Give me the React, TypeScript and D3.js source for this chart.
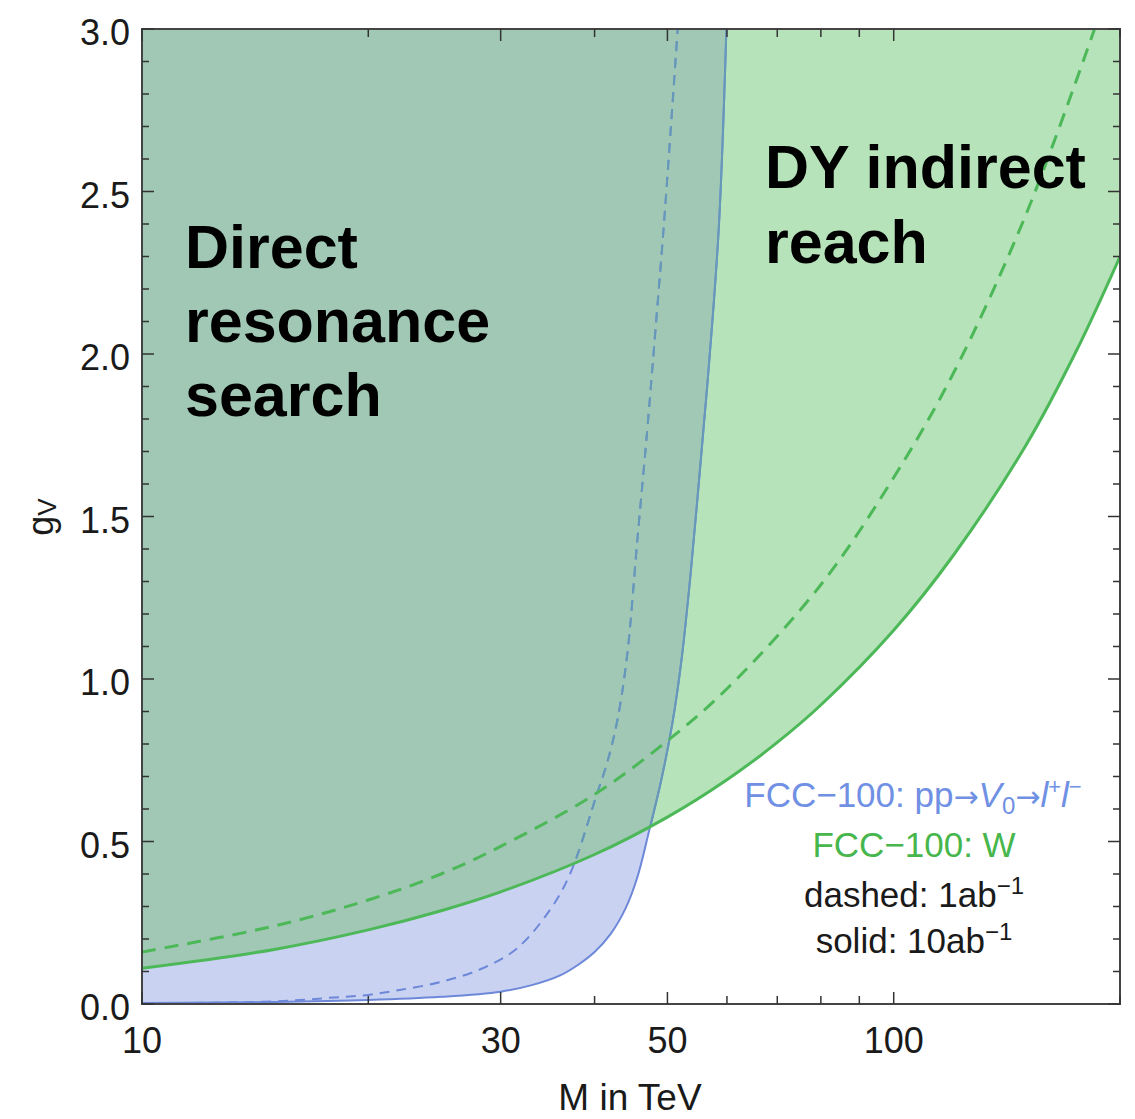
import React from "react";
import * as d3 from "d3";

// ---- data (M in TeV, g_V) ----
const blueSolidM = [10, 15, 20, 25, 30, 33, 36, 38, 40, 42, 44, 45.6, 47.3, 49.0, 50.8, 52.2, 53.5, 54.8, 56.5, 58.5, 59.9];
const blueSolidG = [0.003, 0.006, 0.012, 0.022, 0.038, 0.058, 0.088, 0.12, 0.16, 0.215, 0.295, 0.39, 0.535, 0.683, 0.868, 1.058, 1.289, 1.551, 1.905, 2.382, 3.0];

const blueDashedM = [10, 15, 18, 20, 22, 25, 28.4, 31.5, 34.9, 37.1, 40.3, 41.6, 42.9, 44.2, 45.6, 47.0, 48.2, 49.4, 50.5, 51.6];
const blueDashedG = [0.002, 0.008, 0.02, 0.028, 0.043, 0.068, 0.11, 0.17, 0.29, 0.4, 0.647, 0.745, 0.874, 1.074, 1.428, 1.766, 2.074, 2.382, 2.689, 3.0];

const greenSolidM = [10, 15, 20, 25, 30, 40, 50, 60, 70, 80, 100, 120, 150, 175, 200];
const greenSolidG = [0.11, 0.168, 0.228, 0.287, 0.345, 0.46, 0.575, 0.69, 0.805, 0.92, 1.15, 1.38, 1.72, 2.01, 2.3];

const greenDashedM = [10, 15, 20, 25, 30, 40, 50, 60, 80, 100, 120, 150, 185];
const greenDashedG = [0.16, 0.24, 0.32, 0.4, 0.485, 0.645, 0.81, 0.97, 1.29, 1.62, 1.94, 2.43, 3.0];

const xTickLabels = [10, 30, 50, 100];
const xMinorTicks = [20, 40, 60, 70, 80, 90, 200];
const yTickLabels = [0, 0.5, 1.0, 1.5, 2.0, 2.5, 3.0];

const FONT = "'Liberation Sans', Arial, Helvetica, sans-serif";

export default function App() {
  const W = 1135, H = 1119;
  const left = 142, right = 1120, top = 29, bottom = 1004;
  const x = d3.scaleLog().domain([10, 200]).range([left, right]);
  const y = d3.scaleLinear().domain([0, 3]).range([bottom, top]);

  const toPts = (ms: number[], gs: number[]) => ms.map((m, i) => [m, gs[i]] as [number, number]);
  const lineCR = d3.line<[number, number]>().x(d => x(d[0])).y(d => y(d[1])).curve(d3.curveCatmullRom.alpha(0.5));

  const blueSolid = lineCR(toPts(blueSolidM, blueSolidG)) as string;
  const blueDashed = lineCR(toPts(blueDashedM, blueDashedG)) as string;
  const greenSolid = lineCR(toPts(greenSolidM, greenSolidG)) as string;
  const greenDashed = lineCR(toPts(greenDashedM, greenDashedG)) as string;

  const blueArea = blueSolid + `L${x(10) - 5},${y(3) - 5}Z`;
  const greenArea = greenSolid + `L${x(200) + 5},${y(2.3)}L${x(200) + 5},${y(3) - 5}L${x(10) - 5},${y(3) - 5}L${x(10) - 5},${y(greenSolidG[0])}Z`;

  const blueFill = "#cad2f2";
  const greenFill = "#b6e3ba";
  const overlapFill = "#a0c8b5";
  const blueLine = "#6d88d8";
  const blueLineOver = "#6698b8";
  const greenLine = "#4cb858";

  const yMinor = d3.range(0, 31).map(i => i / 10);
  const ARROW = "'DejaVu Sans', sans-serif";

  return (
    <svg width={W} height={H} style={{ position: "absolute", left: 0, top: 0, background: "#fff" }} fontFamily={FONT}>
      <defs>
        <clipPath id="plot"><rect x={left} y={top} width={right - left} height={bottom - top} /></clipPath>
        <clipPath id="blueClip"><path d={blueArea} /></clipPath>
        <clipPath id="greenClip"><path d={greenArea} /></clipPath>
      </defs>
      <g clipPath="url(#plot)">
        <path d={blueArea} fill={blueFill} />
        <path d={greenArea} fill={greenFill} />
        <g clipPath="url(#blueClip)">
          <path d={greenArea} fill={overlapFill} />
        </g>
        <path d={blueSolid} fill="none" stroke={blueLine} strokeWidth={2} />
        <path d={blueDashed} fill="none" stroke={blueLine} strokeWidth={2} strokeDasharray="10 7" />
        <g clipPath="url(#greenClip)">
          <path d={blueSolid} fill="none" stroke={blueLineOver} strokeWidth={2} />
          <path d={blueDashed} fill="none" stroke={blueLineOver} strokeWidth={2} strokeDasharray="10 7" />
        </g>
        <path d={greenSolid} fill="none" stroke={greenLine} strokeWidth={3} />
        <path d={greenDashed} fill="none" stroke={greenLine} strokeWidth={3} strokeDasharray="14 9" />
      </g>

      {/* frame */}
      <rect x={left} y={top} width={right - left} height={bottom - top} fill="none" stroke="#444" strokeWidth={2} />

      {/* y ticks */}
      {yMinor.map((v, i) => {
        const major = i % 5 === 0;
        const len = major ? 12 : 7;
        return (
          <g key={"yt" + i} stroke="#333" strokeWidth={1.5}>
            <line x1={left} x2={left + len} y1={y(v)} y2={y(v)} />
            <line x1={right} x2={right - len} y1={y(v)} y2={y(v)} />
          </g>
        );
      })}
      {/* x ticks */}
      {[...xTickLabels, ...xMinorTicks].map((v, i) => {
        const len = xTickLabels.includes(v) ? 12 : 8;
        return (
          <g key={"xt" + i} stroke="#333" strokeWidth={1.5}>
            <line x1={x(v)} x2={x(v)} y1={bottom} y2={bottom - len} />
            <line x1={x(v)} x2={x(v)} y1={top} y2={top + len} />
          </g>
        );
      })}

      {/* tick labels */}
      {yTickLabels.map((v, i) => (
        <text key={"yl" + i} x={130} y={y(v) + 16} textAnchor="end" fontSize={36} fill="#1a1a1a">{v.toFixed(1)}</text>
      ))}
      {xTickLabels.map((v, i) => (
        <text key={"xl" + i} x={x(v)} y={1053} textAnchor="middle" fontSize={36} fill="#1a1a1a">{v}</text>
      ))}

      {/* axis titles */}
      <text x={630} y={1110} textAnchor="middle" fontSize={37} fill="#1a1a1a">M in TeV</text>
      <text transform="translate(53,517) rotate(-90)" textAnchor="middle" fontSize={36} fill="#1a1a1a">
        g<tspan fontSize={26} dy={3}>V</tspan>
      </text>

      {/* region labels */}
      <g fontWeight="bold" fontSize={61} fill="#000">
        <text x={185} y={268}>Direct</text>
        <text x={185} y={342}>resonance</text>
        <text x={185} y={416}>search</text>
        <text x={765} y={188}>DY indirect</text>
        <text x={765} y={263}>reach</text>
      </g>

      {/* legend */}
      <g fontSize={35} textAnchor="middle">
        <text x={913} y={807} fill="#7090e4">
          FCC−100: pp<tspan fontFamily={ARROW} fontSize={30}>→</tspan><tspan fontStyle="italic">V</tspan><tspan fontSize={24} dy={7}>0</tspan><tspan dy={-7} fontFamily={ARROW} fontSize={30}>→</tspan><tspan fontStyle="italic">l</tspan><tspan fontSize={22} dy={-13}>+</tspan><tspan fontStyle="italic" dy={13}>l</tspan><tspan fontSize={22} dy={-13}>−</tspan>
        </text>
        <text x={914} y={857} fill="#47b64c">FCC−100: W</text>
        <text x={914} y={907} fill="#1a1a1a">dashed: 1ab<tspan fontSize={24} dy={-13}>−1</tspan></text>
        <text x={914} y={953} fill="#1a1a1a">solid: 10ab<tspan fontSize={24} dy={-13}>−1</tspan></text>
      </g>
    </svg>
  );
}
